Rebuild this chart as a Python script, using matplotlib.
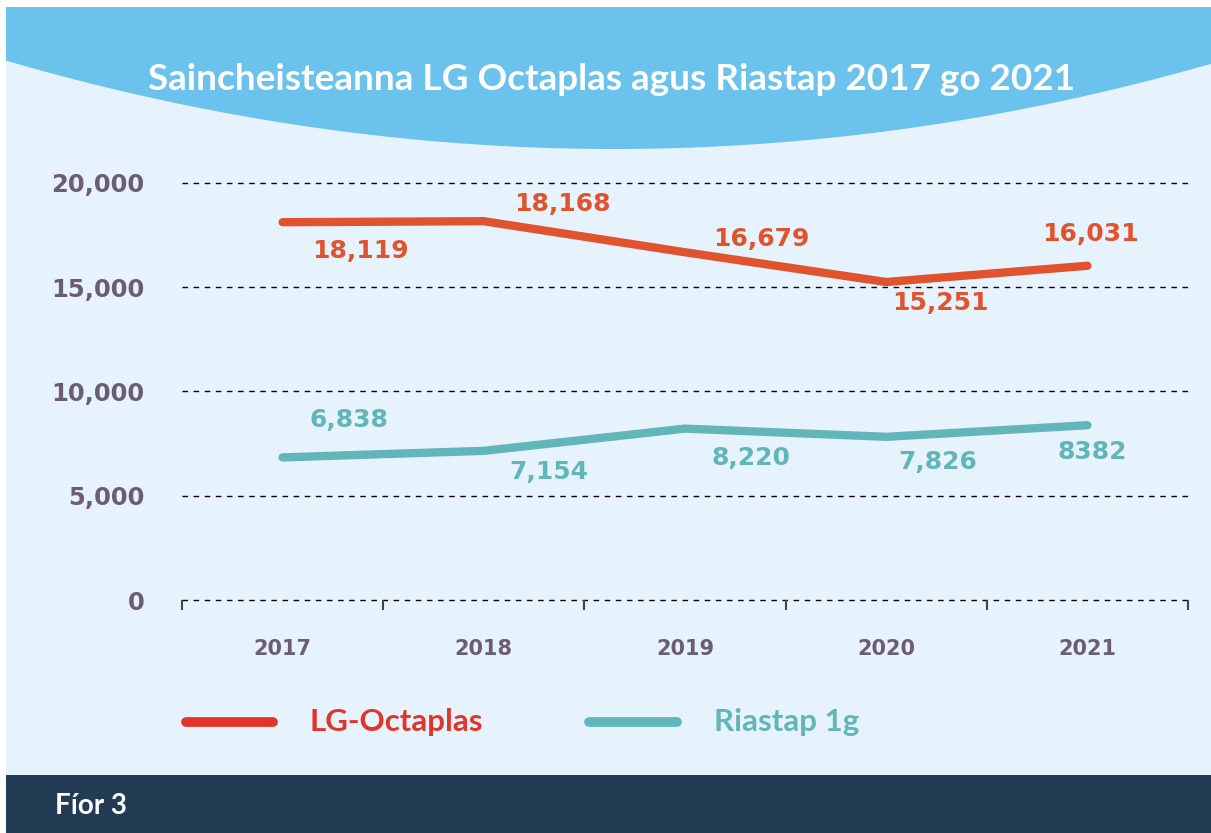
import numpy as np
import matplotlib
matplotlib.use("Agg")
from matplotlib import pyplot as plt
from matplotlib.patches import Rectangle, Polygon

years = ["2017", "2018", "2019", "2020", "2021"]
octaplas = [18119, 18168, 16679, 15251, 16031]
riastap = [6838, 7154, 8220, 7826, 8382]
octaplas_labels = ["18,119", "18,168", "16,679", "15,251", "16,031"]
riastap_labels = ["6,838", "7,154", "8,220", "7,826", "8382"]
yticks = [0, 5000, 10000, 15000, 20000]
ytick_labels = ["0", "5,000", "10,000", "15,000", "20,000"]

title = "Saincheisteanna LG Octaplas agus Riastap 2017 go 2021"
footer = "Fíor 3"
names = ["LG-Octaplas", "Riastap 1g"]

W, H = 1211, 833
BG = "#E6F3FC"
BANNER = "#6BC2EC"
NAVY = "#213C53"
ORANGE = "#E0532E"
RED = "#E3342B"
TEAL = "#62B6BA"
GREY = "#6C5D72"

fig = plt.figure(figsize=(W / 100, H / 100), dpi=100)
fig.patch.set_facecolor("white")

# background layer in pixel coordinates
bg = fig.add_axes([0, 0, 1, 1], zorder=0)
bg.set_xlim(0, W)
bg.set_ylim(H, 0)
bg.axis("off")
bg.add_patch(Rectangle((6, 7), W - 6, H - 7, color=BG, lw=0))
xs = np.linspace(6, W, 200)
curve = 149 - 2.39e-4 * (xs - 614) ** 2
banner = np.vstack([np.column_stack([xs, curve]), [[W, 7], [6, 7]]])
bg.add_patch(Polygon(banner, closed=True, color=BANNER, lw=0))
bg.add_patch(Rectangle((6, 775), W - 6, H - 775, color=NAVY, lw=0))

bg.text(612, 79, title, color="white", fontsize=26.6, fontweight="bold",
        family="Lato", ha="center", va="center")
bg.text(55, 806, footer, color="white", fontsize=20, fontweight="bold",
        family="Lato", ha="left", va="center")

# legend drawn by hand
bg.plot([186, 273], [722, 722], color=RED, lw=7, solid_capstyle="round")
bg.text(310, 722, names[0], color=RED, fontsize=22.5, fontweight="bold",
        family="Lato", ha="left", va="center")
bg.plot([589, 677], [722, 722], color=TEAL, lw=7, solid_capstyle="round")
bg.text(714, 722, names[1], color=TEAL, fontsize=22.5, fontweight="bold",
        family="Lato", ha="left", va="center")

# main chart
ax = fig.add_axes([182 / W, (H - 600) / H, 1006 / W, 417 / H], zorder=1)
ax.set_facecolor("none")
x = np.arange(len(years))
ax.set_xlim(-0.5, len(years) - 0.5)
ax.set_ylim(0, 20000)
for s in ax.spines.values():
    s.set_visible(False)

for yv in yticks:
    ax.axhline(yv, color="black", lw=1, ls=(0, (4, 4)), zorder=1, clip_on=False)

ax.plot(x, octaplas, color=ORANGE, lw=6, solid_capstyle="round",
        solid_joinstyle="round", zorder=3, clip_on=False)
ax.plot(x, riastap, color=TEAL, lw=6, solid_capstyle="round",
        solid_joinstyle="round", zorder=3, clip_on=False)

o_off = [(78, -29), (79, 17), (76, 13), (54, -21), (3, 32)]
r_off = [(66, 37), (65, -21), (66, -29), (52, -25), (5, -27)]
for i in range(len(years)):
    ax.annotate(octaplas_labels[i], (x[i], octaplas[i]), xytext=o_off[i],
                textcoords="offset pixels", ha="center", va="center",
                color=ORANGE, fontsize=18, fontweight="bold", zorder=4)
    ax.annotate(riastap_labels[i], (x[i], riastap[i]), xytext=r_off[i],
                textcoords="offset pixels", ha="center", va="center",
                color=TEAL, fontsize=18, fontweight="bold", zorder=4)

ax.set_yticks(yticks)
ax.set_yticklabels(ytick_labels, color=GREY, fontsize=17.5, fontweight="bold")
ax.tick_params(axis="y", length=0, pad=27)

ax.set_xticks(x)
ax.set_xticklabels(years, color=GREY, fontsize=15, fontweight="bold")
ax.set_xticks(np.arange(-0.5, len(years)), minor=True)
ax.tick_params(axis="x", which="major", length=0, pad=28)
ax.tick_params(axis="x", which="minor", length=7, width=1.5, color="#444444",
               direction="out")

fig.savefig("out.png", dpi=100, facecolor=fig.get_facecolor())
